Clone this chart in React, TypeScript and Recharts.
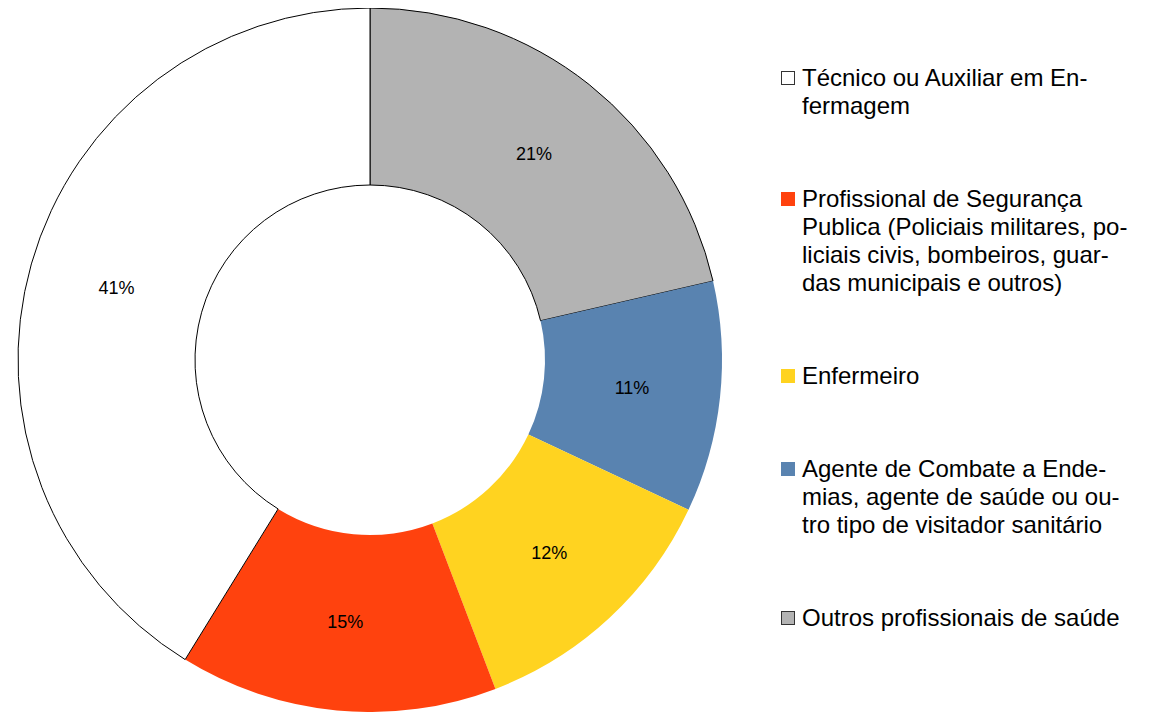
import React from "react";
import { PieChart, Pie, Cell, Legend } from "recharts";

// Pie order, clockwise from 12 o'clock
const categories = [
  "Outros profissionais de saúde",
  "Agente de Combate a Endemias, agente de saúde ou outro tipo de visitador sanitário",
  "Enfermeiro",
  "Profissional de Segurança Publica (Policiais militares, policiais civis, bombeiros, guardas municipais e outros)",
  "Técnico ou Auxiliar em Enfermagem",
];
const shares = [21.4, 10.6, 12.2, 14.6, 41.2];
const colors = ["#b3b3b3", "#5983b0", "#ffd320", "#ff420e", "#ffffff"];
const outlined = [true, false, false, false, true];

// Legend order and hyphenated lines as in the original
const legendOrder = [4, 3, 2, 1, 0];
const legendLines = [
  ["Outros profissionais de saúde"],
  ["Agente de Combate a Ende-", "mias, agente de saúde ou ou-", "tro tipo de visitador sanitário"],
  ["Enfermeiro"],
  ["Profissional de Segurança", "Publica (Policiais militares, po-", "liciais civis, bombeiros, guar-", "das municipais e outros)"],
  ["Técnico ou Auxiliar em En-", "fermagem"],
];

const data = categories.map((name, i) => ({ name, value: shares[i] }));

const FONT = "'Liberation Sans', Arial, sans-serif";
const RADIAN = Math.PI / 180;

const renderLabel = (props: any) => {
  const { cx, cy, midAngle, innerRadius, outerRadius, percent } = props;
  const r = (innerRadius + outerRadius) / 2;
  const x = cx + r * Math.cos(-midAngle * RADIAN);
  const y = cy + r * Math.sin(-midAngle * RADIAN);
  return (
    <text
      x={x}
      y={y}
      fill="#000"
      fontSize={18}
      fontFamily={FONT}
      textAnchor="middle"
      dominantBaseline="central"
    >
      {Math.round(percent * 100)}%
    </text>
  );
};

const LegendContent = () => (
  <div style={{ fontFamily: FONT, fontSize: 24, lineHeight: "28px", color: "#000" }}>
    {legendOrder.map((idx, k) => (
      <div
        key={idx}
        style={{ position: "relative", paddingLeft: 29, marginTop: k === 0 ? 0 : 65 }}
      >
        <div
          style={{
            position: "absolute",
            left: 8,
            top: 7,
            width: outlined[idx] ? 12 : 14,
            height: outlined[idx] ? 12 : 14,
            background: colors[idx],
            border: outlined[idx] ? "1px solid #333" : "none",
          }}
        />
        {legendLines[idx].map((line, j) => (
          <div key={j} style={{ whiteSpace: "nowrap" }}>
            {line}
          </div>
        ))}
      </div>
    ))}
  </div>
);

export default function App() {
  return (
    <PieChart width={1145} height={704} margin={{ top: 0, right: 0, bottom: 0, left: 0 }}>
      <Pie
        data={data}
        dataKey="value"
        nameKey="name"
        cx={362}
        cy={352}
        outerRadius={352}
        innerRadius={175}
        startAngle={90}
        endAngle={-270}
        label={renderLabel}
        labelLine={false}
        isAnimationActive={false}
      >
        {data.map((d, i) => (
          <Cell
            key={d.name}
            fill={colors[i]}
            stroke={outlined[i] ? "#000" : "none"}
            strokeWidth={outlined[i] ? 1 : 0}
          />
        ))}
      </Pie>
      <Legend
        layout="vertical"
        verticalAlign="top"
        align="right"
        content={<LegendContent />}
        wrapperStyle={{ position: "absolute", left: 765, top: 56, width: 380 }}
      />
    </PieChart>
  );
}
